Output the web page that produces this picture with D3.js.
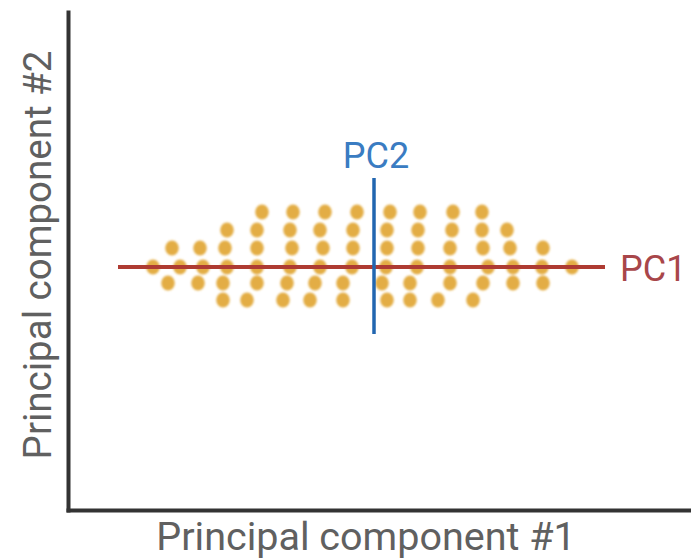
<!DOCTYPE html>
<html>
<head>
<meta charset="utf-8">
<script src="https://cdn.jsdelivr.net/npm/d3@7"></script>
<style>
  html, body { margin: 0; padding: 0; background: #ffffff; }
  svg { display: block; }
</style>
</head>
<body>
<div id="chart"></div>
<script>
// Observations: PC1 score (x) and PC2 score (y)
const pc1Scores = [
  -11.2, -8.1, -4.9, -1.7, 1.6, 4.6, 7.9, 10.8,
  -14.7, -11.7, -8.4, -5.4, -2.1, 1.3, 4.4, 7.8, 10.8, 13.3,
  -20.2, -17.4, -14.9, -11.7, -8.2, -5.1, -2.1, 1.3, 4.4, 7.6, 10.9, 13.6, 16.9,
  -22.1, -19.4, -17.1, -14.7, -11.7, -8.4, -5.4, -2.2, 1.2, 4.3, 7.6, 11.4, 13.9, 16.8, 19.8,
  -20.6, -17.6, -15.1, -11.7, -8.7, -5.9, -3.1, 0.8, 3.6, 7.6, 10.9, 13.9, 16.9,
  -15.1, -12.7, -9.1, -6.4, -3.1, 1.3, 3.6, 6.4, 9.9
];
const pc2Scores = [
  5.5, 5.5, 5.5, 5.5, 5.5, 5.5, 5.5, 5.5,
  3.7, 3.7, 3.7, 3.7, 3.7, 3.7, 3.7, 3.7, 3.7, 3.7,
  1.9, 1.9, 1.9, 1.9, 1.9, 1.9, 1.9, 1.9, 1.9, 1.9, 1.9, 1.9, 1.9,
  0, 0, 0, 0, 0, 0, 0, 0, 0, 0, 0, 0, 0, 0, 0,
  -1.6, -1.6, -1.6, -1.6, -1.6, -1.6, -1.6, -1.6, -1.6, -1.6, -1.6, -1.6, -1.6,
  -3.3, -3.3, -3.3, -3.3, -3.3, -3.3, -3.3, -3.3, -3.3
];
// Principal component axes (extents in score units)
const pc1Extent = [-25.6, 23.1];
const pc2Extent = [-6.7, 8.9];
const axisTitles = ["Principal component #1", "Principal component #2"];
const componentLabels = ["PC1", "PC2"];

const W = 691, H = 560;
const svg = d3.select("#chart").append("svg")
  .attr("width", W).attr("height", H);

const defs = svg.append("defs");
defs.append("filter").attr("id", "soft")
  .attr("filterUnits", "userSpaceOnUse")
  .attr("x", 0).attr("y", 0).attr("width", W).attr("height", H)
  .append("feGaussianBlur").attr("stdDeviation", 1.2);
defs.append("filter").attr("id", "soft2")
  .attr("filterUnits", "userSpaceOnUse")
  .attr("x", 0).attr("y", 0).attr("width", W).attr("height", H)
  .append("feGaussianBlur").attr("stdDeviation", 0.7);

const x = d3.scaleLinear().domain([-30.6, 31.7]).range([68, 691]);
const y = d3.scaleLinear().domain([-24.3, 25.5]).range([510, 12]);

const points = pc1Scores.map((v, i) => ({ pc1: v, pc2: pc2Scores[i] }));

// dots
svg.append("g").attr("filter", "url(#soft)")
  .selectAll("ellipse").data(points).join("ellipse")
  .attr("cx", d => x(d.pc1))
  .attr("cy", d => y(d.pc2))
  .attr("rx", 6.8).attr("ry", 7.5)
  .attr("fill", "#E3AD44");

// PC1 line
svg.append("line")
  .attr("x1", x(pc1Extent[0])).attr("x2", x(pc1Extent[1]))
  .attr("y1", y(0)).attr("y2", y(0))
  .attr("stroke", "#AE3A30").attr("stroke-width", 4)
  .attr("filter", "url(#soft2)");

// PC2 line
svg.append("line")
  .attr("x1", x(0)).attr("x2", x(0))
  .attr("y1", y(pc2Extent[1])).attr("y2", y(pc2Extent[0]))
  .attr("stroke", "#2466B0").attr("stroke-width", 3.5)
  .attr("filter", "url(#soft2)");

// axes (no ticks)
const gx = svg.append("g").attr("transform", `translate(0,${y.range()[0]})`)
  .call(d3.axisBottom(x).tickValues([]).tickSizeOuter(0));
const gy = svg.append("g").attr("transform", `translate(${x.range()[0]},0)`)
  .call(d3.axisLeft(y).tickValues([]).tickSizeOuter(0));
[gx, gy].forEach(g => g.select(".domain")
  .attr("stroke", "#333").attr("stroke-width", 4)
  .attr("stroke-linecap", "square"));

// component labels
svg.append("text")
  .attr("x", x(0) + 2).attr("y", 168)
  .attr("text-anchor", "middle")
  .attr("font-family", "Roboto, sans-serif").attr("font-size", 36)
  .attr("fill", "#3A7CC2")
  .text(componentLabels[1]);
svg.append("text")
  .attr("x", 620).attr("y", 281)
  .attr("text-anchor", "start")
  .attr("font-family", "Roboto, sans-serif").attr("font-size", 36)
  .attr("fill", "#A8464A")
  .text(componentLabels[0]);

// axis titles
svg.append("text")
  .attr("x", 366).attr("y", 550)
  .attr("text-anchor", "middle")
  .attr("font-family", "Roboto, sans-serif").attr("font-size", 39.5)
  .attr("fill", "#606060")
  .text(axisTitles[0]);
svg.append("text")
  .attr("transform", "translate(51,255) rotate(-90)")
  .attr("text-anchor", "middle")
  .attr("font-family", "Roboto, sans-serif").attr("font-size", 38.5)
  .attr("fill", "#606060")
  .text(axisTitles[1]);
</script>
</body>
</html>
